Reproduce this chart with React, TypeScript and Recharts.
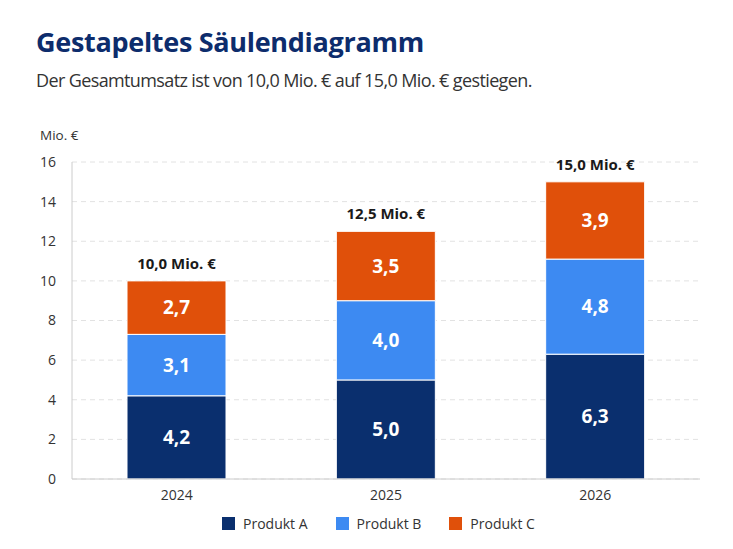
import React from "react";
import { BarChart, Bar, XAxis, YAxis, CartesianGrid, LabelList } from "recharts";

const years = ["2024", "2025", "2026"];
const produktA = [4.2, 5.0, 6.3];
const produktB = [3.1, 4.0, 4.8];
const produktC = [2.7, 3.5, 3.9];
const totals = [10.0, 12.5, 15.0];
const yTicks = [0, 2, 4, 6, 8, 10, 12, 14, 16];
const seriesNames = ["Produkt A", "Produkt B", "Produkt C"];
const colors = ["#0A2F6E", "#3D8AF2", "#E0500A"];

const data = years.map((y, i) => ({
  year: y,
  a: produktA[i],
  b: produktB[i],
  c: produktC[i],
  total: totals[i],
}));

const FONT = "'Open Sans', 'Noto Sans', sans-serif";
const fmt = (v: any) => Number(v).toFixed(1).replace(".", ",");

export default function App() {
  return (
    <div style={{ position: "absolute", left: 0, top: 0, width: 733, height: 549, background: "#fff", fontFamily: FONT }}>
      <div style={{ position: "absolute", left: 36, top: 28, fontSize: 27, lineHeight: "27px", fontWeight: 700, color: "#0D2C6C", letterSpacing: -0.3, whiteSpace: "nowrap" }}>
        Gestapeltes Säulendiagramm
      </div>
      <div style={{ position: "absolute", left: 36, top: 71, fontSize: 18, lineHeight: "18px", color: "#333", letterSpacing: -0.62, whiteSpace: "nowrap" }}>
        Der Gesamtumsatz ist von 10,0 Mio. € auf 15,0 Mio. € gestiegen.
      </div>
      <div style={{ position: "absolute", left: 40, top: 129, fontSize: 13.5, lineHeight: "13.5px", color: "#333", whiteSpace: "nowrap" }}>
        Mio. €
      </div>
      <div style={{ position: "absolute", left: 0, top: 0 }}>
        <BarChart
          width={733}
          height={549}
          data={data}
          margin={{ top: 162, right: 33, bottom: 40, left: 0 }}
        >
          <CartesianGrid vertical={false} stroke="#e2e2e2" strokeDasharray="5 4" />
          <XAxis
            dataKey="year"
            tickLine={false}
            axisLine={{ stroke: "#cccccc" }}
            tickSize={0}
            tickMargin={11}
            height={30}
            tick={{ fill: "#333", fontSize: 14, fontFamily: FONT }}
          />
          <YAxis
            domain={[0, 16]}
            ticks={yTicks}
            width={72}
            tickLine={false}
            tickSize={0}
            tickMargin={16}
            axisLine={{ stroke: "#cccccc" }}
            tick={{ fill: "#333", fontSize: 14, fontFamily: FONT }}
          />
          <Bar dataKey="a" stackId="s" fill={colors[0]} barSize={99} stroke="#ffffff" strokeWidth={1} isAnimationActive={false}>
            <LabelList dataKey="a" position="center" formatter={fmt} fill="#fff" fontSize={19} fontWeight={700} fontFamily={FONT} />
          </Bar>
          <Bar dataKey="b" stackId="s" fill={colors[1]} barSize={99} stroke="#ffffff" strokeWidth={1} isAnimationActive={false}>
            <LabelList dataKey="b" position="center" formatter={fmt} fill="#fff" fontSize={19} fontWeight={700} fontFamily={FONT} />
          </Bar>
          <Bar dataKey="c" stackId="s" fill={colors[2]} barSize={99} stroke="#ffffff" strokeWidth={1} isAnimationActive={false}>
            <LabelList dataKey="c" position="center" formatter={fmt} fill="#fff" fontSize={19} fontWeight={700} fontFamily={FONT} />
            <LabelList dataKey="total" position="top" offset={12} formatter={(v: any) => `${fmt(v)} Mio. €`} fill="#1a1a1a" fontSize={15} fontWeight={700} fontFamily={FONT} />
          </Bar>
        </BarChart>
      </div>
      <div style={{ position: "absolute", left: 222, top: 514, display: "flex", alignItems: "center", fontSize: 14, color: "#333", whiteSpace: "nowrap" }}>
        {seriesNames.map((n, i) => (
          <div key={n} style={{ display: "flex", alignItems: "center", marginRight: 28 }}>
            <span style={{ display: "inline-block", width: 13, height: 13, background: colors[i], marginRight: 8 }} />
            <span>{n}</span>
          </div>
        ))}
      </div>
    </div>
  );
}
